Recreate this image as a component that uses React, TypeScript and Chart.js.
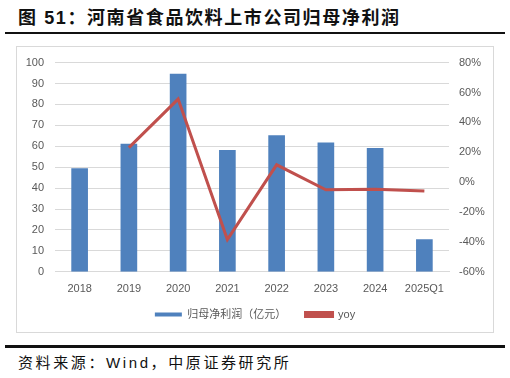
import React, { useEffect, useRef } from "react";
import { Chart, registerables } from "chart.js";

Chart.register(...registerables);

const categories = ["2018", "2019", "2020", "2021", "2022", "2023", "2024", "2025Q1"];
const profitValues = [49.4, 61.0, 94.5, 58.1, 65.1, 61.6, 59.0, 15.4];
const yoyValues = [null, 23.1, 55.6, -38.4, 11.6, -5.1, -4.7, -6.0];
const leftTicks = [0, 10, 20, 30, 40, 50, 60, 70, 80, 90, 100];
const rightTicks = [-60, -40, -20, 0, 20, 40, 60, 80];
const barLabel = "归母净利润（亿元）";
const lineLabel = "yoy";
const titleText = "图 51：河南省食品饮料上市公司归母净利润";
const sourceText = "资料来源：Wind，中原证券研究所";

const FONT = "'Liberation Sans', 'Noto Sans CJK SC', sans-serif";

export default function App() {
  const canvasRef = useRef<HTMLCanvasElement | null>(null);

  useEffect(() => {
    if (!canvasRef.current) return;
    const chart = new Chart(canvasRef.current, {
      type: "bar",
      data: {
        labels: categories,
        datasets: [
          {
            type: "line",
            label: lineLabel,
            data: yoyValues as any,
            yAxisID: "y2",
            borderColor: "#c0504d",
            backgroundColor: "#c0504d",
            borderWidth: 3,
            pointRadius: 0,
            tension: 0,
            order: 0,
          },
          {
            type: "bar",
            label: barLabel,
            data: profitValues,
            yAxisID: "y",
            backgroundColor: "#4f81bd",
            barThickness: 16,
            order: 1,
          },
        ],
      },
      options: {
        animation: false,
        responsive: false,
        layout: { padding: { top: 1, left: 0, right: 0, bottom: 2 } },
        plugins: {
          tooltip: { enabled: false },
          legend: {
            position: "bottom",
            reverse: true,
            labels: {
              boxWidth: 27,
              boxHeight: 4,
              padding: 10,
              color: "#595959",
              font: { family: FONT, size: 11 },
              generateLabels: (c: any) => {
                const items = Chart.defaults.plugins.legend.labels.generateLabels(c);
                return items.map((it: any) =>
                  it.text === barLabel ? { ...it, text: barLabel + "   " } : it
                );
              },
            },
          },
        },
        scales: {
          x: {
            grid: { display: false },
            border: { color: "#d9d9d9" },
            ticks: { color: "#595959", font: { family: FONT, size: 11 }, padding: 3 },
          },
          y: {
            position: "left",
            min: 0,
            max: 100,
            afterBuildTicks: (s: any) => {
              s.ticks = leftTicks.map((v) => ({ value: v }));
            },
            afterFit: (s: any) => {
              s.width = 38;
            },
            grid: { color: "#d9d9d9", drawTicks: false },
            border: { display: false },
            ticks: { color: "#595959", font: { family: FONT, size: 11 }, padding: 11 },
          },
          y2: {
            position: "right",
            min: -60,
            max: 80,
            afterBuildTicks: (s: any) => {
              s.ticks = rightTicks.map((v) => ({ value: v }));
            },
            afterFit: (s: any) => {
              s.width = 44;
            },
            grid: { display: false, drawTicks: false },
            border: { display: false },
            ticks: {
              color: "#595959",
              font: { family: FONT, size: 11 },
              padding: 10,
              callback: (v: any) => `${v}%`,
            },
          },
        },
      },
    });
    return () => chart.destroy();
  }, []);

  return (
    <div style={{ position: "absolute", left: 0, top: 0, width: 510, height: 378, background: "#fff", fontFamily: FONT }}>
      <div
        style={{
          position: "absolute",
          left: 18,
          top: 3,
          fontSize: 18,
          letterSpacing: 1.6,
          fontWeight: "bold",
          color: "#111",
          fontFamily: "'Liberation Sans', 'Noto Sans CJK SC', sans-serif",
          whiteSpace: "nowrap",
        }}
      >
        {titleText}
      </div>
      <div style={{ position: "absolute", left: 5, top: 32, width: 500, height: 2, background: "#111" }} />
      <div
        style={{
          position: "absolute",
          left: 16,
          top: 46,
          width: 476,
          height: 285,
          border: "1px solid #d9d9d9",
        }}
      >
        <canvas
          ref={canvasRef}
          width={476}
          height={287}
          style={{ display: "block", position: "absolute", left: 0, top: -2 }}
        />
      </div>
      <div style={{ position: "absolute", left: 5, top: 345, width: 500, height: 3, background: "#111" }} />
      <div
        style={{
          position: "absolute",
          left: 18,
          top: 351,
          fontSize: 15,
          letterSpacing: 2.6,
          color: "#111",
          fontFamily: "'Liberation Sans', 'Noto Sans CJK SC', sans-serif",
          whiteSpace: "nowrap",
        }}
      >
        {sourceText}
      </div>
    </div>
  );
}
